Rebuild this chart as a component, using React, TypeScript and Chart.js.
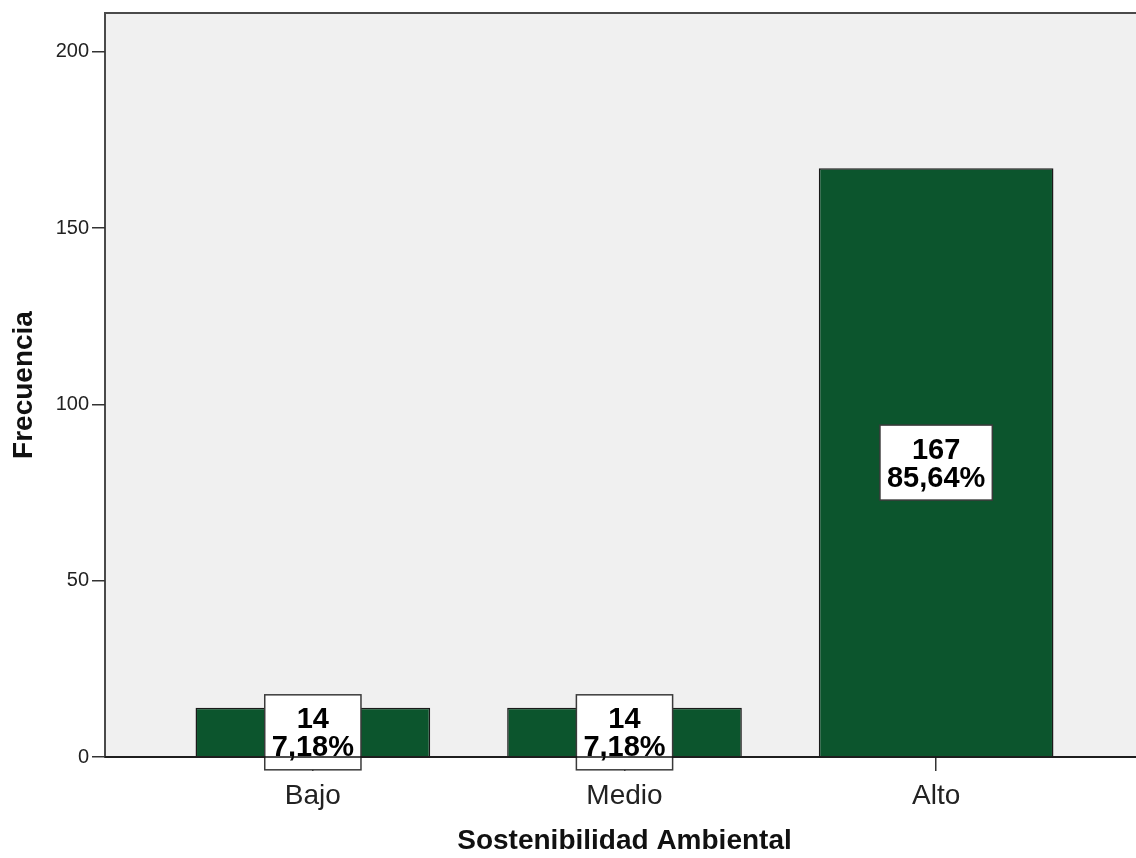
import React, { useEffect, useRef } from "react";
import { Chart, registerables } from "chart.js";

Chart.register(...registerables);

const categories = ["Bajo", "Medio", "Alto"];
const frequencies = [14, 14, 167];
const percentLabels = ["7,18%", "7,18%", "85,64%"];
const yTickValues = [0, 50, 100, 150, 200];
const yMax = 211;
const xTitle = "Sostenibilidad Ambiental";
const yTitle = "Frecuencia";

const FONT = "'Liberation Sans', Arial, sans-serif";

const plotFrame = {
  id: "plotFrame",
  beforeDraw(chart: any) {
    const { ctx, chartArea: a } = chart;
    ctx.save();
    ctx.fillStyle = "#f0f0f0";
    ctx.fillRect(a.left, a.top, a.right - a.left, a.bottom - a.top);
    ctx.strokeStyle = "#4a4a4a";
    ctx.lineWidth = 2;
    ctx.strokeRect(a.left, a.top, a.right - a.left, a.bottom - a.top);
    ctx.restore();
  },
};

const barLabels = {
  id: "barLabels",
  afterDatasetsDraw(chart: any) {
    const { ctx, chartArea: a } = chart;
    const meta = chart.getDatasetMeta(0);
    const yScale = chart.scales.y;
    ctx.save();
    ctx.font = `bold 29px ${FONT}`;
    meta.data.forEach((bar: any, i: number) => {
      const lines = [String(frequencies[i]), percentLabels[i]];
      const w = Math.max(...lines.map((l) => ctx.measureText(l).width)) + 14;
      const h = 75;
      const cx = bar.x;
      const cy = yScale.getPixelForValue(frequencies[i] / 2);
      ctx.fillStyle = "#ffffff";
      ctx.fillRect(cx - w / 2, cy - h / 2, w, h);
      ctx.strokeStyle = "#3a3a3a";
      ctx.lineWidth = 1.5;
      ctx.strokeRect(cx - w / 2, cy - h / 2, w, h);
      ctx.fillStyle = "#000000";
      ctx.textAlign = "center";
      ctx.textBaseline = "alphabetic";
      ctx.fillText(lines[0], cx, cy - 4);
      ctx.fillText(lines[1], cx, cy + 24);
    });
    // x axis line drawn over the label boxes
    ctx.strokeStyle = "#111111";
    ctx.lineWidth = 1.5;
    ctx.beginPath();
    ctx.moveTo(a.left, a.bottom);
    ctx.lineTo(a.right, a.bottom);
    ctx.stroke();
    ctx.restore();
  },
};

export default function App() {
  const canvasRef = useRef<HTMLCanvasElement | null>(null);

  useEffect(() => {
    if (!canvasRef.current) return;
    const chart = new Chart(canvasRef.current, {
      type: "bar",
      data: {
        datasets: [
          {
            data: categories.map((_, i) => ({ x: i, y: frequencies[i] })),
            backgroundColor: "#0c552d",
            borderColor: "#1a1a1a",
            borderWidth: 1.5,
            barPercentage: 0.753,
            categoryPercentage: 1,
          },
        ],
      },
      options: {
        responsive: false,
        animation: false,
        layout: { padding: { top: 12, right: 6, left: 0, bottom: 0 } },
        plugins: {
          legend: { display: false },
          tooltip: { enabled: false },
        },
        scales: {
          x: {
            type: "linear",
            offset: false,
            min: -0.667,
            max: 2.667,
            afterBuildTicks: (scale: any) => {
              scale.ticks = categories.map((_, i) => ({ value: i }));
            },
            afterFit: (scale: any) => {
              scale.height = 101;
            },
            border: { display: false },
            grid: {
              offset: false,
              drawOnChartArea: false,
              drawTicks: true,
              tickLength: 14,
              color: "#333333",
              lineWidth: 1.5,
            },
            ticks: {
              padding: 8,
              color: "#222222",
              font: { family: FONT, size: 28 },
              callback: (_v: any, index: number) => categories[index] ?? "",
            },
            title: {
              display: true,
              text: xTitle,
              color: "#111111",
              font: { family: FONT, size: 28, weight: "bold" },
              padding: { top: 0, bottom: 0 },
            },
          },
          y: {
            min: 0,
            max: yMax,
            afterBuildTicks: (scale: any) => {
              scale.ticks = yTickValues.map((v) => ({ value: v }));
            },
            afterFit: (scale: any) => {
              scale.width = 105;
            },
            border: { display: false },
            grid: {
              drawOnChartArea: false,
              drawTicks: true,
              tickLength: 13,
              color: "#333333",
              lineWidth: 1.5,
            },
            ticks: {
              padding: 3,
              color: "#222222",
              font: { family: FONT, size: 20, lineHeight: 1 },
            },
            title: {
              display: true,
              text: yTitle,
              color: "#111111",
              font: { family: FONT, size: 28, weight: "bold" },
              padding: { top: 7, bottom: 0 },
            },
          },
        },
      },
      plugins: [plotFrame, barLabels],
    } as any);
    return () => chart.destroy();
  }, []);

  return (
    <div
      style={{
        position: "fixed",
        left: 0,
        top: 0,
        width: 1136,
        height: 858,
        overflow: "hidden",
        background: "#ffffff",
      }}
    >
      <canvas
        ref={canvasRef}
        width={1150}
        height={858}
        style={{ display: "block", width: 1150, height: 858 }}
      />
    </div>
  );
}
